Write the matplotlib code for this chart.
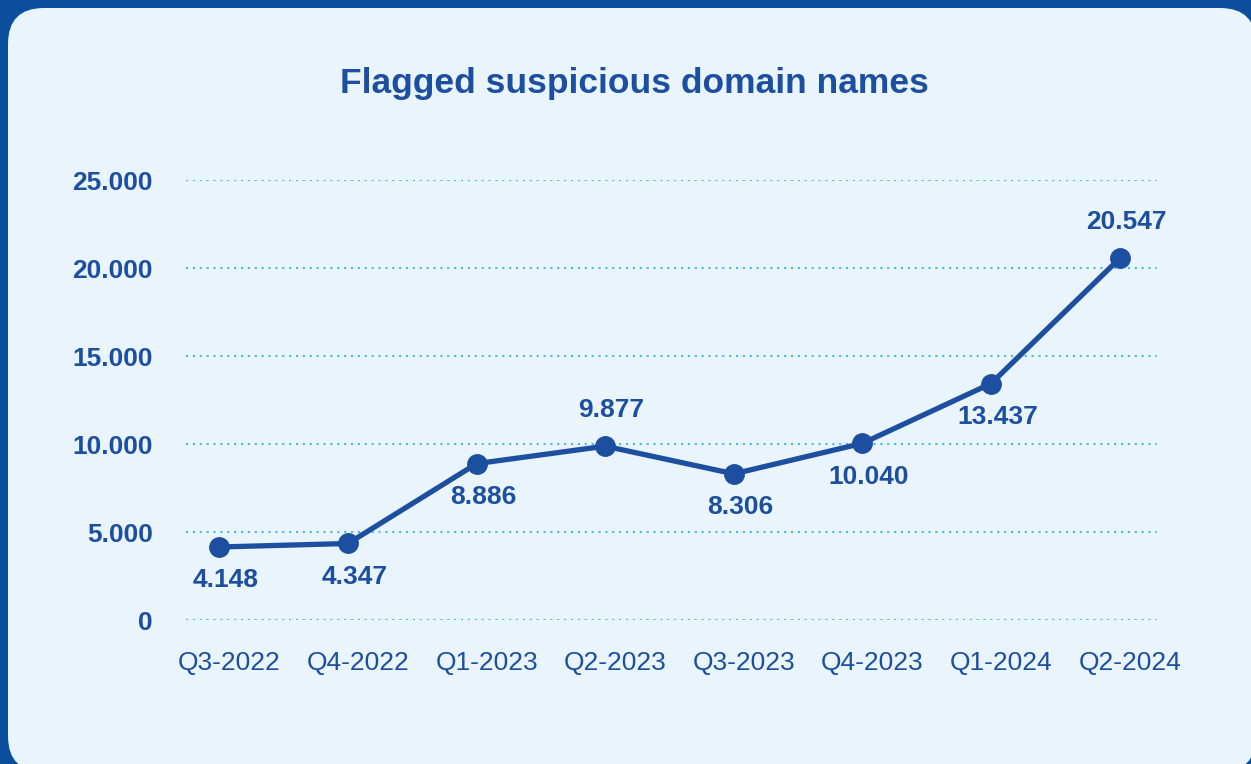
import matplotlib.pyplot as plt
import matplotlib
from matplotlib.patches import FancyBboxPatch
from matplotlib.transforms import IdentityTransform, ScaledTranslation

matplotlib.rcParams["font.family"] = ["Liberation Sans", "DejaVu Sans"]

# Data
quarters = ["Q3-2022", "Q4-2022", "Q1-2023", "Q2-2023",
            "Q3-2023", "Q4-2023", "Q1-2024", "Q2-2024"]
domains = [4148, 4347, 8886, 9877, 8306, 10040, 13437, 20547]
label_above = [False, False, False, True, False, False, False, True]
y_ticks = [0, 5000, 10000, 15000, 20000, 25000]

BLUE = "#1c4fa0"
BORDER = "#0b4e9c"
PANEL = "#eaf4fc"
GRID = "#3fbdee"

W, H, DPI = 1251, 764, 100
fig = plt.figure(figsize=(W / DPI, H / DPI), dpi=DPI)
fig.patch.set_facecolor(BORDER)

# rounded light panel (runs slightly past the right and bottom edges)
panel = FancyBboxPatch(
    (8, -8), W - 3, H,
    boxstyle="round,pad=0,rounding_size=36",
    transform=IdentityTransform(), facecolor=PANEL, edgecolor="none", zorder=-5,
)
fig.patches.append(panel)

ax = fig.add_axes([186 / W, 1 - 620 / H, (1157 - 186) / W, (620 - 180) / H])
ax.set_facecolor("none")
ax.set_zorder(2)

x = list(range(len(quarters)))
ax.plot(x, domains, color=BLUE, linewidth=3.8, marker="o", markersize=14,
        markerfacecolor=BLUE, markeredgecolor=BLUE, zorder=5, clip_on=False)

for xi, v, up in zip(x, domains, label_above):
    s = f"{v:,}".replace(",", ".")
    ax.annotate(s, xy=(xi, v), xytext=(4.5, 26 if up else -24),
                textcoords="offset points", ha="center", va="center",
                fontsize=19, fontweight="bold", color=BLUE)

ax.set_xlim(-0.26, 7.29)
ax.set_ylim(0, 25000)
ax.set_yticks(y_ticks)
ax.set_yticklabels([f"{t:,}".replace(",", ".") for t in y_ticks],
                   fontsize=19, fontweight="bold", color=BLUE)
ax.set_xticks(x)
ax.set_xticklabels(quarters, fontsize=19, color=BLUE)
ax.tick_params(axis="y", length=0, pad=24)
ax.tick_params(axis="x", length=0, pad=22)

# x labels sit a little right of their points
shift = ScaledTranslation(10 / DPI, 0, fig.dpi_scale_trans)
for lab in ax.get_xticklabels():
    lab.set_transform(lab.get_transform() + shift)

for sp in ax.spines.values():
    sp.set_visible(False)
ax.grid(True, axis="y", color=GRID, linestyle=(0, (1, 2.3)), linewidth=1.5)
ax.grid(False, axis="x")
ax.set_axisbelow(True)

fig.text(634 / W, 1 - 83 / H, "Flagged suspicious domain names",
         ha="center", va="center", fontsize=25.5, fontweight="bold", color=BLUE)

fig.savefig("out.png", dpi=DPI, facecolor=BORDER)
